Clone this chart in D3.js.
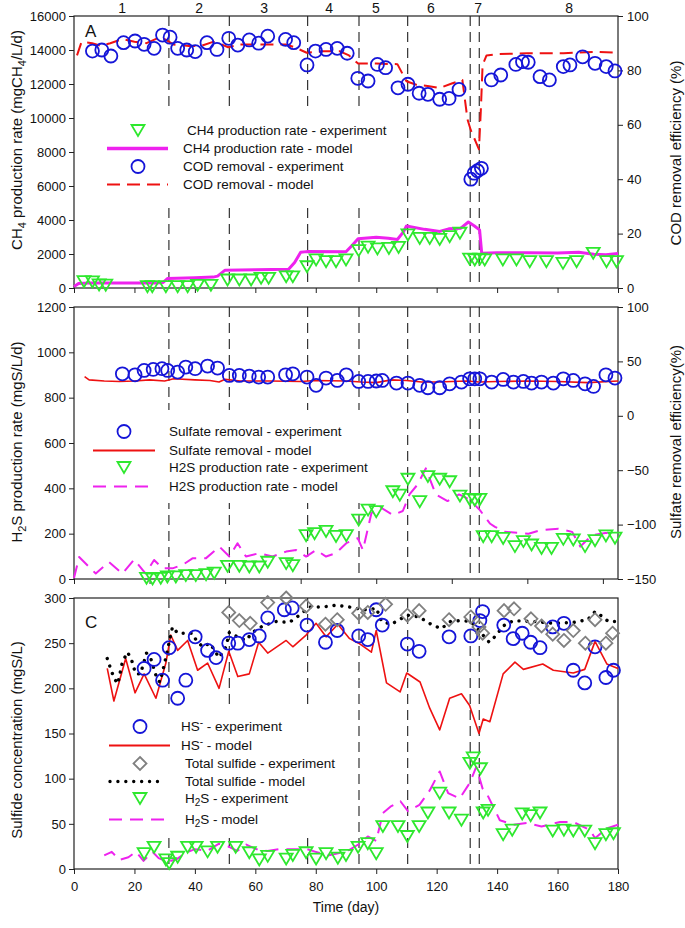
<!DOCTYPE html>
<html><head><meta charset="utf-8">
<script src="https://cdn.jsdelivr.net/npm/d3@7"></script>
<style>body{margin:0;background:#fff}svg text{font-family:"Liberation Sans",Arial,sans-serif;fill:#111}</style>
</head><body><svg id="c" width="685" height="928"></svg>
<script>
// ---------- data ----------
const phaseLines=[31.4,51.4,77.3,94.3,110.4,131.1,134.1];
const phaseLabels=["1","2","3","4","5","6","7","8"];
const phaseLabelDays=[15.9,41.4,62.9,84.4,99.9,118.1,133.7,163.8];

const xTicks20=[0,20,40,60,80,100,120,140,160,180];
const xTicks25=[0,25,50,75,100,125,150,175];
const ch4Ticks=[0,2000,4000,6000,8000,10000,12000,14000,16000];
const codTicks=[0,20,40,60,80,100];
const h2sRateTicks=[0,200,400,600,800,1000,1200];
const sulfRemTicks=[-150,-100,-50,0,50,100];
const sulfideTicks=[0,50,100,150,200,250,300];

// Panel A
const codExp=[[6.1,87.1],[9.2,87.5],[12.2,85.3],[16.4,90.2],[20.2,90.8],[23.2,89.6],[26.5,88.1],[29.3,93],[31.8,92.2],[34.3,88.1],[37.3,87.5],[40.1,86.9],[44,90.2],[47.3,87.7],[51.2,91.8],[54.2,89.3],[58,91.2],[61.1,90],[64.1,92.6],[70,91.4],[72.7,90.2],[77.1,82],[79.9,87.1],[83.4,87.7],[87.1,88.1],[90.4,86.3],[93.9,77.1],[97.3,76.1],[100.4,82.2],[103.1,81],[107.2,73.6],[110.5,74.9],[114.2,71.6],[117.1,71.2],[121,69.4],[124.1,69.7],[127.4,73],[131.3,40],[132.4,42.2],[133.5,43.1],[134.8,44],[138.1,76.5],[141.2,78.3],[146.2,82.2],[148.4,83.2],[150.3,83],[154.2,77.7],[157.3,76.5],[161.9,81.4],[164.1,82],[168.3,85],[172.4,82.6],[176.1,81.4],[179,79.8]];
const codModel=[[1,85.5],[2.5,90.5],[6,90],[9,89],[12,90],[16,91.5],[20,90.5],[24,90],[28,92],[30,91.5],[33,89.5],[38,89],[42,89],[46,90.5],[49,89.5],[51,88.5],[55,89.5],[62,89.5],[70,89.5],[73,88.5],[77,86.5],[82,87],[88,87],[91,85.5],[94,82.5],[100,82.5],[107,82.3],[110,76],[113,74.8],[117,74.3],[121,73.5],[125,75.2],[128.5,76.5],[130.2,62],[131.3,58],[134,51],[134.6,65],[135.2,82],[136.5,85.5],[140,86],[150,86.3],[162,86.3],[172,86.8],[180,86.5]];
const ch4Exp=[[3.3,370],[6.1,360],[8.3,180],[10.5,170],[24.3,80],[25.9,80],[30.4,80],[34.3,80],[37.6,80],[40.9,160],[45.3,160],[50.8,470],[54.7,470],[58.6,470],[61.9,570],[64.4,570],[70.2,660],[72.4,660],[77.1,1250],[80.1,1650],[83.4,1550],[86.7,1550],[90,1650],[94.2,2200],[97.3,2400],[100.4,2300],[104.2,2330],[107.4,2390],[110.5,3120],[114.4,2920],[117.7,2920],[121,2860],[124.3,3020],[127.7,3220],[130.9,1700],[132.6,1650],[134.3,1700],[135.9,1650],[141.9,1650],[146.4,1650],[150.8,1550],[156.3,1550],[161.8,1450],[166.3,1550],[171.8,2040],[176.2,1550],[179.5,1550]];
const ch4Model=[[0,80],[1.5,270],[5,290],[15,290],[27,300],[29.5,330],[31,560],[40,600],[46,640],[47.5,700],[50,1050],[60,1080],[71,1100],[73,1500],[75,2100],[77,2140],[90,2130],[92,2500],[94,2900],[100,2980],[104,2920],[107,2850],[109,3300],[110,3650],[116,3450],[121,3330],[124,3480],[128,3520],[130.5,3880],[132.5,3650],[134.2,3420],[134.9,2050],[140,2080],[150,2080],[160,2060],[167,2100],[172,1980],[176,1950],[180,2030]];

// Panel B
const sulfRemExp=[[16,38.6],[20.2,37.7],[23.2,41.7],[26.2,42.6],[29.1,43.3],[31,41.7],[34.3,40.2],[37,44.8],[40.1,43.3],[44.2,45.7],[47.5,43.9],[51.4,37.1],[54.7,37.1],[58,36.5],[61.1,35.6],[64.1,35.6],[70,37.7],[72.4,38.6],[77.1,35.6],[80.1,28],[83.4,34.7],[87.1,32.5],[90.1,37.7],[94.2,31.6],[97.3,31.6],[100,32],[102,32.5],[106.7,30.1],[110.5,30.1],[114.4,28],[117.1,25.8],[121,25.8],[124.3,29.4],[128.2,31],[130.9,34],[132.6,34],[134.3,34],[138.2,31],[142,33.4],[145.4,31],[148.7,31.6],[151.4,30.1],[154.7,31],[158.6,30.1],[161.9,34],[165.2,32.5],[169.1,29.4],[171.9,27],[176,37.7],[179,34.7]];
const sulfRemModel=[[3.5,36],[5,33],[10,32],[15,31.5],[20,32],[25,33],[30,32],[33,34],[40,33],[45,32.5],[48,31],[50,33.5],[55,32],[65,32],[75,31.5],[80,32.5],[90,32],[95,31],[100,30.5],[105,33],[110,32.5],[115,31],[120,31],[125,31.5],[130,32],[134,31],[140,31.5],[150,32],[160,31.5],[170,30.5],[180,32]];
const h2sRateExp=[[24,3],[26,0],[28.7,3],[30.9,9],[33.7,9],[37,15],[40.3,15],[43.7,19],[46.4,26],[50.8,56],[54.7,56],[58,53],[61.3,53],[64.1,74],[70.2,68],[72.4,59],[76.8,191],[79.6,200],[83.4,210],[86.7,188],[90.1,191],[94.2,260],[97.3,304],[100,297],[105.5,385],[107.8,370],[110.5,440],[114.4,341],[117.1,452],[121,440],[124.3,429],[127.7,366],[130.9,351],[132.6,348],[134.3,351],[135.4,187],[138.2,187],[142,179],[145.9,143],[148.7,165],[151.4,150],[154.7,135],[158,135],[161.9,175],[165.2,172],[169.1,143],[172.4,169],[176,190],[179,180]];
const h2sRateModel=[[0,4],[1.7,97],[7.2,24],[11.6,75],[16,24],[19.9,86],[23.7,24],[26.5,84],[29.3,47],[32.6,47],[35.9,62],[39.2,91],[43.6,91],[48.1,143],[51.4,99],[54.1,158],[56.9,99],[61.3,114],[65.7,99],[70.2,121],[73.5,128],[76.8,99],[80.1,128],[83.4,99],[86.7,114],[90.1,158],[93.9,180],[95.6,128],[98.4,290],[101.1,319],[105.5,282],[108.8,300],[111,373],[113.7,417],[116.4,488],[119.7,373],[123.6,344],[127.4,373],[130.8,351],[134.3,304],[137.6,245],[139.3,230],[142.5,208],[150.4,200],[154.2,215],[160.3,222],[164.8,208],[167.5,143],[171.4,193],[175.8,203],[179,203]];

// Panel C
const hsExp=[[23.2,222],[26.5,232],[29.3,209],[31.5,245],[34.3,189],[37,209],[40.1,257],[44.2,242],[47,234],[51.2,250],[54.2,250],[58,254],[61.3,258],[64.1,278],[69.6,287],[72.2,289],[77.1,270],[83.2,251],[87.1,264],[94.2,258],[97.2,254],[100,287],[102,270],[110.3,249],[114.2,241],[124.1,257],[131.3,258],[134.3,275],[135.2,285],[142.2,270],[145.3,255],[148.3,261],[151.1,251],[154.2,245],[158.4,268],[162.1,272],[165.2,220],[169,206],[172.4,246],[176,212],[178.5,220]];
const hsModel=[[11,222],[13.2,186],[17.1,233],[20.2,195],[23.2,216],[27.1,189],[30.4,228],[32,259],[34.3,242],[37.6,253],[40.9,220],[44.2,228],[48,200],[51.2,241],[54.2,213],[58,216],[61.1,251],[64.1,239],[70.2,253],[72.4,246],[76.8,259],[80.1,272],[83.4,257],[87.3,271],[91.2,255],[94.2,250],[98.4,240],[100,264],[103.4,206],[107.9,196],[110.1,217],[114.5,207],[117.7,178],[121,154],[124.3,189],[128.2,194],[130.9,181],[134,150],[135.4,166],[137.6,163],[142,216],[145.9,229],[148.7,221],[155.1,227],[158.6,220],[165.2,217],[169,221],[172.4,252],[176.3,227],[180,222]];
const totExp=[[51.2,284],[54.7,275],[58.3,272],[64.1,295],[70.2,300],[76.8,291],[83.2,271],[87.1,276],[94.2,283],[97.2,284],[103.1,293],[110.3,281],[114.2,286],[124.1,276],[131.3,279],[134,268],[135.2,261],[142.3,286],[145.6,288],[151.2,277],[154.7,269],[158.4,260],[162.1,253],[165.2,264],[169.2,250],[172.4,276],[176,250],[178.2,261]];
const totModel=[[11,233],[12.5,218],[13.5,210],[14.5,205],[16,229],[17.7,240],[19,232],[20.4,216],[22,216],[24,239],[25.5,232],[27.6,209],[28.5,207],[30.4,234],[31.5,251],[32.6,268],[34.3,261],[37,261],[39.2,261],[40.3,254],[42.5,246],[45,250],[48,234],[50.3,246],[51.4,262],[53.5,258],[56.9,253],[59.1,262],[62.4,269],[66.9,274],[71.3,273],[74.6,281],[77.9,290],[82.3,290],[86.7,292],[91.2,290],[95.6,287],[98,287],[100,289],[101.8,274],[105,271],[110.3,281],[114.2,279],[118.1,271],[121.5,266],[124.6,274],[128,275],[131.3,274],[133.5,266],[136.3,255],[137.4,251],[139.8,259],[142,269],[145.4,275],[152,274],[158.6,272],[165.2,273],[170,276],[172.4,285],[174.6,280],[176.8,274],[180,274]];
const h2sExp=[[23.2,17],[26.5,24],[30.4,10],[31.5,6],[34.3,13],[37.6,24],[40.4,24],[44.2,19],[47.5,24],[53.5,24],[58,18],[61.3,10],[64.1,14],[70.2,11],[72.4,15],[76.8,18],[80.1,11],[83.4,17],[87.3,12],[90,15],[94,24],[97.2,28],[100,17],[102.2,47],[107.2,47],[110.3,36],[114.2,47],[117.1,62],[121,84],[124.1,62],[128.2,54],[131,117],[132.1,123],[134.5,111],[135.4,62],[137,65],[142,38],[145,43],[148.3,61],[151.1,59],[154.2,62],[158.4,42],[162.1,43],[165.2,42],[169,42],[172.4,28],[176,38],[178.5,39]];
const h2sModel=[[10,15],[12.5,19],[15,10],[18,13],[20.5,19],[23,9],[26,19],[28,12],[31,8],[34,11],[37,18],[40,22],[44,20],[48,28],[51,25],[54,20],[57,27],[61,21],[64,20],[68,22],[72,22],[77,22],[80,19],[84,15],[87,17],[91,21],[94.5,28],[97.2,36],[100,31],[102.2,62],[104.7,69],[108,75],[110.5,64],[114.3,71],[117.7,87],[121,108],[123.8,84],[127.6,78],[130.9,95],[133.1,113],[135.2,89],[136.5,84],[140.9,54],[145.4,49],[149.8,51],[154.7,47],[160.8,52],[165.2,52],[170.8,43],[172.4,34],[176.3,45],[180,49]];

// ---------- styles ----------
const BLUE="#1515d8", RED="#ee1111", MAG="#ee22ee", GREEN="#2ee82e", GREY="#808080";
const svg=d3.select("#c");
const x=d3.scaleLinear().domain([0,180]).range([74,618]);
const L=74,R=618;
const panels=[{t:16,b:288},{t:307,b:579},{t:598,b:869}];

const yA=d3.scaleLinear().domain([0,16000]).range([288,16]);
const yAR=d3.scaleLinear().domain([0,100]).range([288,16]);
const yB=d3.scaleLinear().domain([0,1200]).range([579,307]);
const yBR=d3.scaleLinear().domain([-150,100]).range([579,307]);
const yC=d3.scaleLinear().domain([0,300]).range([869,598]);
const fmt=d3.format("d");

function styleAxis(g,fs){
  g.select(".domain").remove();
  g.selectAll(".tick line").attr("stroke","#222").attr("stroke-width",1);
  g.selectAll(".tick text").style("font-size",fs+"px").attr("fill","#111");
}
// axes
[[yA,ch4Ticks],[yB,h2sRateTicks],[yC,sulfideTicks]].forEach(([s,t])=>{
  const g=svg.append("g").attr("transform",`translate(${L},0)`).call(d3.axisLeft(s).tickValues(t).tickFormat(fmt).tickSize(5).tickPadding(3));
  styleAxis(g,13);
});
[[yAR,codTicks],[yBR,sulfRemTicks]].forEach(([s,t])=>{
  const g=svg.append("g").attr("transform",`translate(${R},0)`).call(d3.axisRight(s).tickValues(t).tickFormat(fmt).tickSize(5).tickPadding(4));
  styleAxis(g,13);
});
{
  const g1=svg.append("g").attr("transform","translate(0,288)").call(d3.axisBottom(x).tickValues(xTicks20).tickSize(5).tickFormat(""));
  styleAxis(g1,13);
  const g2=svg.append("g").attr("transform","translate(0,579)").call(d3.axisBottom(x).tickValues(xTicks25).tickSize(5).tickFormat(""));
  styleAxis(g2,13);
  const g3=svg.append("g").attr("transform","translate(0,869)").call(d3.axisBottom(x).tickValues(xTicks20).tickFormat(fmt).tickSize(5).tickPadding(8));
  styleAxis(g3,13);
}

// phase dashed lines
panels.forEach(p=>{
  svg.append("g").selectAll("line").data(phaseLines).join("line")
    .attr("x1",d=>x(d)).attr("x2",d=>x(d)).attr("y1",p.t).attr("y2",p.b)
    .attr("stroke","#333").attr("stroke-width",1.2).attr("stroke-dasharray","10,6");
});
// legend backgrounds
[[97,110,298,92],[86,410,300,93],[100,708,246,126]].forEach(r=>{
  svg.append("rect").attr("x",r[0]).attr("y",r[1]).attr("width",r[2]).attr("height",r[3]).attr("fill","#fff");
});
// frames
panels.forEach(p=>{
  svg.append("rect").attr("x",L).attr("y",p.t).attr("width",R-L).attr("height",p.b-p.t)
    .attr("fill","none").attr("stroke","#222").attr("stroke-width",1.2);
});

// phase labels
svg.append("g").selectAll("text").data(phaseLabels).join("text")
  .attr("x",(d,i)=>x(phaseLabelDays[i])).attr("y",13).attr("text-anchor","middle")
  .style("font-size","14px").text(d=>d);

// marker helpers
const circ=(g,data,ys)=>g.append("g").selectAll("circle").data(data).join("circle")
  .attr("cx",d=>x(d[0])).attr("cy",d=>ys(d[1])).attr("r",6.5)
  .attr("fill","none").attr("stroke",BLUE).attr("stroke-width",1.8);
const triPath=(cx,cy)=>`M${cx-6.5},${cy-5.5}L${cx+6.5},${cy-5.5}L${cx},${cy+5.5}Z`;
const diaPath=(cx,cy)=>`M${cx},${cy-6.5}L${cx+6.5},${cy}L${cx},${cy+6.5}L${cx-6.5},${cy}Z`;
const tri=(g,data,ys)=>g.append("g").selectAll("path").data(data).join("path")
  .attr("d",d=>triPath(x(d[0]),ys(d[1]))).attr("fill","none").attr("stroke",GREEN).attr("stroke-width",1.8);
const dia=(g,data,ys)=>g.append("g").selectAll("path").data(data).join("path")
  .attr("d",d=>diaPath(x(d[0]),ys(d[1]))).attr("fill","none").attr("stroke",GREY).attr("stroke-width",1.8);
const line=(g,data,ys,col,w,dash,cap)=>g.append("path").datum(data)
  .attr("d",d3.line().x(d=>x(d[0])).y(d=>ys(d[1])))
  .attr("fill","none").attr("stroke",col).attr("stroke-width",w)
  .attr("stroke-dasharray",dash||null).attr("stroke-linecap",cap||"butt").attr("stroke-linejoin","round");

const plot=svg.append("g");
// Panel A
line(plot,ch4Model,yA,MAG,3);
tri(plot,ch4Exp,yA);
line(plot,codModel,yAR,RED,2,"13,7");
circ(plot,codExp,yAR);
// Panel B
line(plot,sulfRemModel,yBR,RED,1.6);
circ(plot,sulfRemExp,yBR);
line(plot,h2sRateModel,yB,MAG,2,"13,8");
tri(plot,h2sRateExp,yB);
// Panel C
line(plot,hsModel,yC,RED,1.6);
line(plot,totModel,yC,"#000",3.4,"0.01,7.9","round");
line(plot,h2sModel,yC,MAG,2,"13,8");
circ(plot,hsExp,yC);
dia(plot,totExp,yC);
tri(plot,h2sExp,yC);

// ---------- legends ----------
function legendItem(g,type,mx,l0,l1,tx,ty,parts){
  const cy=ty-4.5;
  if(type==="circ") g.append("circle").attr("cx",mx).attr("cy",cy).attr("r",6.5).attr("fill","none").attr("stroke",BLUE).attr("stroke-width",1.8);
  if(type==="tri") g.append("path").attr("d",triPath(mx,cy)).attr("fill","none").attr("stroke",GREEN).attr("stroke-width",1.8);
  if(type==="dia") g.append("path").attr("d",diaPath(mx,cy)).attr("fill","none").attr("stroke",GREY).attr("stroke-width",1.8);
  if(type.startsWith("line")){
    const [_,col,w,dash,cap]=type.split("|");
    g.append("line").attr("x1",l0).attr("x2",l1).attr("y1",cy).attr("y2",cy)
      .attr("stroke",col).attr("stroke-width",+w).attr("stroke-dasharray",dash||null).attr("stroke-linecap",cap||"butt");
  }
  const t=g.append("text").attr("x",tx).attr("y",ty).style("font-size","13.5px");
  parts.forEach(p=>{
    if(typeof p==="string") t.append("tspan").text(p);
    else t.append("tspan").attr("dy",p.dy).style("font-size",p.fs+"px").text(p.t);
  });
}
const lg=svg.append("g");
// A
legendItem(lg,"tri",138,0,0,187,135,["CH4 production rate - experiment"]);
legendItem(lg,`line|${MAG}|3.5`,138,107,168,183,153,["CH4 production rate - model"]);
legendItem(lg,"circ",138,0,0,183,171,["COD removal - experiment"]);
legendItem(lg,`line|${RED}|2|13,7`,138,107,168,183,189,["COD removal - model"]);
// B
legendItem(lg,"circ",124,0,0,169,436,["Sulfate removal - experiment"]);
legendItem(lg,`line|${RED}|2`,124,93,155,169,455,["Sulfate removal - model"]);
legendItem(lg,"tri",124,0,0,169,472,["H2S production rate - experiment"]);
legendItem(lg,`line|${MAG}|2|13,8`,124,93,155,169,491,["H2S production rate - model"]);
// C
legendItem(lg,"circ",140,0,0,181,731,["HS",{t:"-",dy:-5,fs:10},{t:" - experiment",dy:5,fs:13.5}]);
legendItem(lg,`line|${RED}|2`,140,109,170,181,750,["HS",{t:"-",dy:-5,fs:10},{t:" - model",dy:5,fs:13.5}]);
legendItem(lg,"dia",140,0,0,185,768,["Total sulfide - experiment"]);
legendItem(lg,`line|#000|3.4|0.01,7.9|round`,140,110,165,185,786,["Total sulfide - model"]);
legendItem(lg,"tri",140,0,0,185,803,["H",{t:"2",dy:3,fs:10},{t:"S -  experiment",dy:-3,fs:13.5}]);
legendItem(lg,`line|${MAG}|2|13,8`,140,109,170,185,824,["H",{t:"2",dy:3,fs:10},{t:"S - model",dy:-3,fs:13.5}]);

// panel letters
svg.append("text").attr("x",85).attr("y",37).style("font-size","17px").text("A");
svg.append("text").attr("x",85).attr("y",628).style("font-size","17px").text("C");

// axis titles
function rotTitle(cx,cy,parts){
  const t=svg.append("text").attr("transform",`translate(${cx},${cy}) rotate(-90)`).attr("text-anchor","middle").style("font-size","15px");
  parts.forEach(p=>{
    if(typeof p==="string") t.append("tspan").text(p);
    else t.append("tspan").attr("dy",p.dy).style("font-size",p.fs+"px").text(p.t);
  });
}
rotTitle(22,140,["CH",{t:"4",dy:4,fs:11},{t:" production rate (mgCH",dy:-4,fs:15},{t:"4",dy:4,fs:11},{t:"/L/d)",dy:-4,fs:15}]);
rotTitle(22,442,["H",{t:"2",dy:4,fs:11},{t:"S production rate (mgS/L/d)",dy:-4,fs:15}]);
rotTitle(22,740,["Sulfide concentration (mgS/L)"]);
rotTitle(681,153,["COD removal efficiency (%)"]);
rotTitle(681,442,["Sulfate removal efficiency(%)"]);
svg.append("text").attr("x",346).attr("y",912).attr("text-anchor","middle").style("font-size","14px").text("Time (day)");
</script></body></html>
